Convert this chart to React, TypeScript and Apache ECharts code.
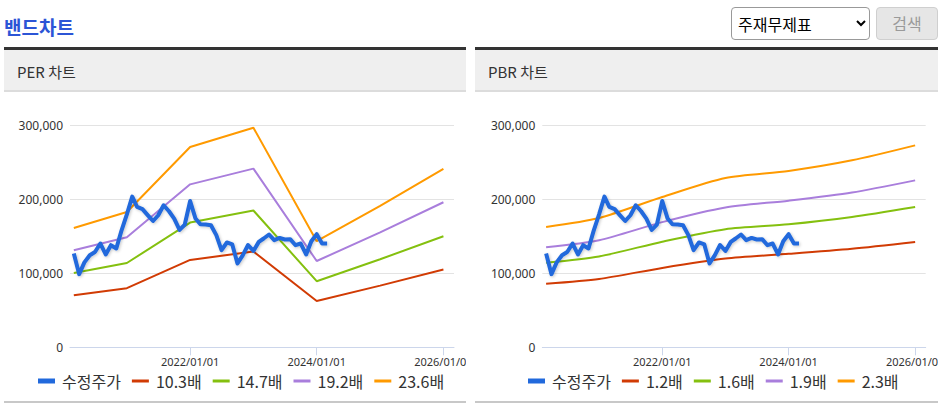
import React, { useEffect, useRef } from 'react';
import * as echarts from 'echarts';

// ---- data ----
const priceDates = [
  '2020-03-01', '2020-04-01', '2020-05-01', '2020-06-01', '2020-07-01', '2020-08-01', '2020-09-01', '2020-10-01', '2020-11-01', '2020-12-01',
  '2021-01-01', '2021-02-01', '2021-03-01', '2021-04-01', '2021-05-01', '2021-06-01', '2021-07-01', '2021-08-01', '2021-09-01', '2021-10-01', '2021-11-01', '2021-12-01',
  '2022-01-01', '2022-02-01', '2022-03-01', '2022-04-01', '2022-05-01', '2022-06-01', '2022-07-01', '2022-08-01', '2022-09-01', '2022-10-01', '2022-11-01', '2022-12-01',
  '2023-01-01', '2023-02-01', '2023-03-01', '2023-04-01', '2023-05-01', '2023-06-01', '2023-07-01', '2023-08-01', '2023-09-01', '2023-10-01', '2023-11-01', '2023-12-01',
  '2024-01-01', '2024-02-01', '2024-03-01',
];
const priceValues = [
  127000, 99000, 115000, 124700, 129000, 140500, 125700, 138200, 133800, 158000,
  180000, 204000, 190000, 187000, 179000, 171000, 178800, 192300, 184200, 174300, 159000, 166200,
  198000, 174300, 166500, 166200, 165300, 151800, 131500, 141900, 139200, 113500, 124700, 138500,
  130500, 142700, 147300, 152700, 145000, 148100, 145900, 146400, 138200, 140500, 125700, 143600,
  153100, 140500, 140500,
];

const bandDates = ['2020-03-01', '2021-01-01', '2022-01-01', '2023-01-01', '2024-01-01', '2025-01-01', '2026-01-01'];

const perNames = ['10.3배', '14.7배', '19.2배', '23.6배'];
const per103 = [70500, 80000, 118300, 129700, 62700, 83500, 105400];
const per147 = [100700, 114100, 168900, 185200, 89500, 119200, 150400];
const per192 = [131500, 149000, 220600, 241900, 116800, 155700, 196400];
const per236 = [161600, 183200, 271100, 297300, 143600, 191400, 241400];

const pbrNames = ['1.2배', '1.6배', '1.9배', '2.3배'];
const pbr12 = [86000, 92500, 107500, 120200, 126500, 133500, 142700];
const pbr16 = [114500, 123000, 143000, 159900, 166600, 176500, 190000];
const pbr19 = [135500, 145000, 169500, 189300, 198500, 209500, 226000];
const pbr23 = [163000, 175100, 203500, 229200, 238700, 253100, 273400];

const xTickDates = ['2022-01-01', '2024-01-01', '2026-01-01'];
const xAxisMin = '2020-02-08';
const xAxisMax = '2026-03-03';
const yTicks = [0, 100000, 200000, 300000];

const priceName = '수정주가';
const bandColors = ['#d13b04', '#84c00f', '#a97edc', '#ff9a00'];
const priceColor = '#2169dc';

const toTs = (s: string) => {
  const [y, m, d] = s.split('-').map(Number);
  return new Date(y, m - 1, d).getTime();
};
const pad = (n: number) => (n < 10 ? '0' + n : '' + n);

const thickIcon = 'path://M0,0M17,8M0,1.5L17,1.5L17,6.5L0,6.5Z';
const thinIcon = 'path://M0,0M17,8M0,2.5L17,2.5L17,5.5L0,5.5Z';

const EXTRA = 30; // canvas overhang on both sides, clipped by the panel

type ChartProps = {
  names: string[];
  bands: number[][];
  smooth: number | boolean;
  gridLeft: number;
  gridRight: number;
  legendLeft: number;
};

function BandChart({ names, bands, smooth, gridLeft, gridRight, legendLeft }: ChartProps) {
  const ref = useRef<HTMLDivElement>(null);
  useEffect(() => {
    if (!ref.current) return;
    const chart = echarts.init(ref.current, undefined, { renderer: 'svg' });
    const bandSeries = bands.map((vals, i) => ({
      name: names[i],
      type: 'line',
      symbol: 'none',
      smooth,
      data: bandDates.map((d, j) => [toTs(d), vals[j]]),
      lineStyle: { color: bandColors[i], width: 2 },
      itemStyle: { color: bandColors[i] },
      z: 2,
    }));
    const priceSeries = {
      name: priceName,
      type: 'line',
      symbol: 'none',
      data: priceDates.map((d, j) => [toTs(d), priceValues[j]]),
      lineStyle: {
        color: priceColor,
        width: 4,
        join: 'round',
        shadowColor: 'rgba(0,0,0,0.22)',
        shadowBlur: 3,
        shadowOffsetX: 1,
        shadowOffsetY: 1,
      },
      itemStyle: { color: priceColor },
      z: 3,
    };
    const tickTs = xTickDates.map(toTs);
    chart.setOption({
      animation: false,
      grid: { left: gridLeft + EXTRA, right: gridRight + EXTRA, top: 33.7, bottom: 53.7, containLabel: false },
      legend: {
        left: legendLeft + EXTRA,
        top: 276,
        itemWidth: 17,
        itemHeight: 8,
        itemGap: 11,
        textStyle: {
          fontSize: 16,
          color: '#333',
          fontFamily: "'Noto Sans CJK KR', sans-serif",
          padding: [0, 0, 0, 2],
        },
        data: [
          { name: priceName, icon: thickIcon, itemStyle: { color: priceColor } },
          ...names.map((n, i) => ({ name: n, icon: thinIcon, itemStyle: { color: bandColors[i] } })),
        ],
      },
      xAxis: {
        type: 'value',
        min: toTs(xAxisMin),
        max: toTs(xAxisMax),
        axisLine: { show: true, lineStyle: { color: '#ccd6eb', width: 1 } },
        axisTick: {
          show: true,
          length: 8,
          lineStyle: { color: '#ccd6eb', width: 1 },
          customValues: tickTs,
        },
        axisLabel: {
          customValues: tickTs,
          fontSize: 11,
          color: '#333',
          margin: 9,
          fontFamily: "'Noto Sans', sans-serif",
          hideOverlap: false,
          formatter: (v: number) => {
            const d = new Date(v);
            return d.getFullYear() + '/' + pad(d.getMonth() + 1) + '/' + pad(d.getDate());
          },
        },
        splitLine: { show: false },
      },
      yAxis: {
        type: 'value',
        min: yTicks[0],
        max: yTicks[yTicks.length - 1],
        interval: yTicks[1] - yTicks[0],
        axisLine: { show: false },
        axisTick: { show: false },
        axisLabel: {
          fontSize: 12,
          color: '#333',
          margin: 7,
          fontFamily: "'Noto Sans', sans-serif",
          formatter: (v: number) => v.toLocaleString('en-US'),
        },
        splitLine: { lineStyle: { color: '#e3e3e3', width: 1 } },
      },
      series: [...bandSeries, priceSeries],
    });
    return () => chart.dispose();
  }, []);
  return <div ref={ref} style={{ width: '100%', height: '100%' }} />;
}

function Panel({ left, width, title, children }: { left: number; width: number; title: string; children: React.ReactNode }) {
  return (
    <div style={{ position: 'absolute', left, top: 47, width, height: 356 }}>
      <div
        style={{
          position: 'absolute',
          left: 0,
          top: 0,
          width,
          height: 45,
          borderTop: '3px solid #333',
          borderBottom: '2px solid #dcdcdc',
          background: '#efefef',
          boxSizing: 'border-box',
        }}
      >
        <div
          style={{
            position: 'absolute',
            left: 13,
            top: 0,
            height: 40,
            lineHeight: '44px',
            fontSize: 15,
            color: '#333',
          }}
        >
          {title}
        </div>
      </div>
      <div style={{ position: 'absolute', left: 0, top: 45, width, height: 309, overflow: 'hidden' }}>
        <div style={{ position: 'absolute', left: -EXTRA, top: 0, width: width + 2 * EXTRA, height: 309 }}>{children}</div>
      </div>
      <div style={{ position: 'absolute', left: 0, top: 354, width, height: 2, background: '#c8c8c8' }} />
    </div>
  );
}

export default function App() {
  return (
    <div
      style={{
        position: 'relative',
        width: 943,
        height: 409,
        overflow: 'hidden',
        background: '#fff',
        fontFamily: "'Noto Sans CJK KR', 'Noto Sans', sans-serif",
      }}
    >
      <style>{`body{margin:0}`}</style>
      <div
        style={{
          position: 'absolute',
          left: 4,
          top: 15,
          fontSize: 19,
          lineHeight: '23px',
          fontWeight: 'bold',
          color: '#2c55d6',
        }}
      >
        밴드차트
      </div>
      <select
        defaultValue="main"
        style={{
          position: 'absolute',
          left: 731,
          top: 7,
          width: 139,
          height: 33,
          fontSize: 16,
          border: '1px solid #999',
          borderRadius: 4,
          padding: '0 2px',
          background: '#fff',
          color: '#000',
          fontFamily: "'Noto Sans CJK KR', sans-serif",
        }}
      >
        <option value="main">주재무제표</option>
      </select>
      <div
        style={{
          position: 'absolute',
          left: 876,
          top: 7,
          width: 62,
          height: 33,
          boxSizing: 'border-box',
          background: '#e6e6e6',
          border: '1px solid #cfcfcf',
          borderRadius: 4,
          color: '#9a9a9a',
          fontSize: 16,
          lineHeight: '31px',
          textAlign: 'center',
        }}
      >
        검색
      </div>
      <Panel left={4} width={462} title="PER 차트">
        <BandChart names={perNames} bands={[per103, per147, per192, per236]} smooth={false} gridLeft={66} gridRight={12} legendLeft={29} />
      </Panel>
      <Panel left={475} width={463} title="PBR 차트">
        <BandChart names={pbrNames} bands={[pbr12, pbr16, pbr19, pbr23]} smooth={0.25} gridLeft={67.3} gridRight={12.3} legendLeft={48} />
      </Panel>
    </div>
  );
}
